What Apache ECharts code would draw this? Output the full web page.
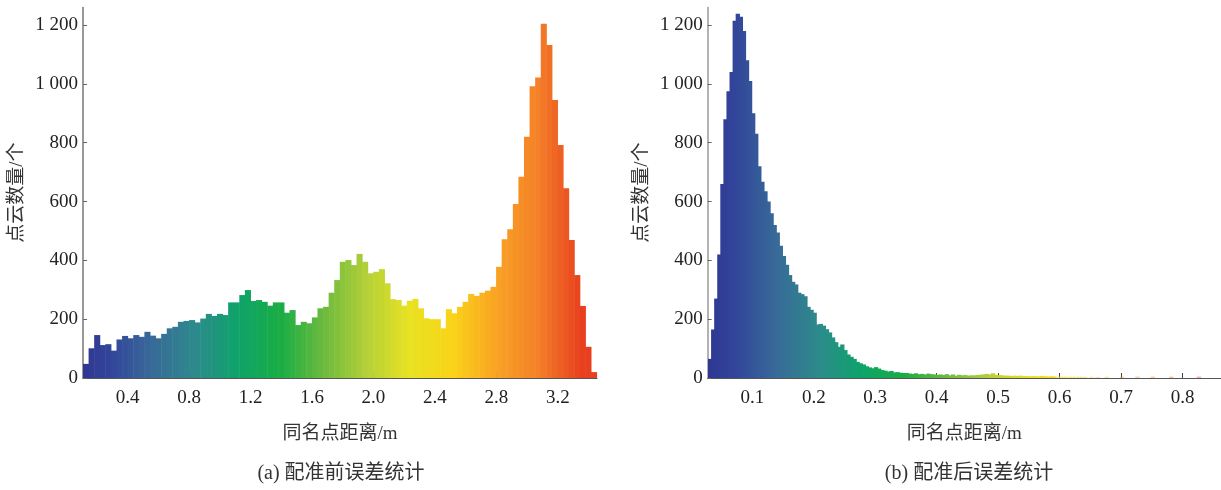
<!DOCTYPE html>
<html>
<head>
<meta charset="utf-8">
<script src="https://cdn.jsdelivr.net/npm/echarts@6/dist/echarts.min.js"></script>
<style>
  html, body { margin: 0; padding: 0; background: #fff; }
  #main { width: 1221px; height: 490px; }
</style>
</head>
<body>
<div id="main"></div>
<script>
// (a) 配准前 - histogram counts, bins from leftBinStart, width leftBinWidth
const leftBinStart = 0.109;
const leftBinWidth = 0.03634;
const leftCounts = [
  48, 101, 146, 112, 115, 93, 131, 143, 135, 146, 140, 157, 144, 135, 150, 169, 174, 191, 194, 197,
  189, 202, 218, 211, 218, 214, 257, 257, 282, 299,
  262, 265, 259, 246, 257, 257, 222, 231, 180, 191, 186, 206, 237, 242, 290, 333, 395, 401, 384, 422,
  395, 356, 361, 370, 322, 268, 265, 246, 263, 269,
  237, 203, 200, 200, 169, 234, 220, 242, 259, 286, 279, 290, 297, 310, 378, 472, 506, 592, 684, 820,
  992, 1022, 1204, 1132, 945, 792, 645, 469, 350, 245, 106, 20
];
const leftTicks = [0.4, 0.8, 1.2, 1.6, 2.0, 2.4, 2.8, 3.2];

// (b) 配准后
const rightBinStart = 0.028;
const rightBinWidth = 0.005;
const rightCounts = [
  65, 165, 270, 420, 660, 880, 975, 1040, 1215, 1238,
  1228, 1180, 1080, 1010, 900, 830, 720, 667, 635, 600,
  560, 520, 495, 450, 415, 385, 350, 327, 318, 290,
  285, 278, 242, 232, 222, 182, 184, 178, 166, 155,
  138, 122, 106, 114, 95, 80, 72, 65, 55, 50,
  46, 40, 36, 33, 37, 32, 27, 25, 22, 24,
  19, 20, 18, 17, 17, 15, 14, 16, 13, 14,
  12, 15, 13, 12, 11, 12,
  10, 13, 9, 12, 8, 11, 9, 10, 8, 9,
  9, 10, 11, 12, 14, 12, 16, 11, 10, 9, 8,
  8, 7, 8, 7, 8, 7, 7, 6, 7, 6, 6, 7, 6, 5, 6, 5, 5, 6, 5,
  5, 4, 5, 4, 5, 4, 4, 0, 4, 0, 4, 0, 0, 4, 0, 0,
  0, 0, 5, 0, 0, 0, 0, 5, 0, 0, 0, 0, 5, 0, 0, 0, 0, 0, 5, 0, 0, 0, 0, 0, 0, 0, 0, 5
];
const rightTicks = [0.1, 0.2, 0.3, 0.4, 0.5, 0.6, 0.7, 0.8];

const yTicks = [0, 200, 400, 600, 800, 1000, 1200];

const cmap = ['#2b2f8c', '#32449a', '#386a98', '#2d8a8c', '#0ea36a', '#1aad45', '#6cba3e',
  '#b4d038', '#e8e222', '#f9d418', '#f9a424', '#f48028', '#e8401e'];

const serif = "'Liberation Serif', 'Noto Sans CJK SC', serif";

function toBins(counts, start, w) {
  return counts.map((c, i) => [start + w * (i + 0.5), c]);
}

function histRender(w, fadeFrom, overlap) {
  return function (params, api) {
    const x = api.value(0);
    const y = api.value(1);
    if (!y) return null;
    const p0 = api.coord([x - w / 2, y]);
    const p1 = api.coord([x + w / 2, 0]);
    return {
      type: 'rect',
      shape: { x: p0[0], y: p0[1], width: p1[0] - p0[0] + overlap, height: p1[1] - p0[1] },
      style: { fill: api.visual('color'), opacity: x > fadeFrom ? 0.4 : 1 }
    };
  };
}

function yAxis(gridIndex) {
  return {
    type: 'value', gridIndex: gridIndex, min: 0, max: 1260,
    name: '点云数量/个', nameLocation: 'middle', nameGap: 56,
    nameTextStyle: { fontFamily: serif, fontSize: 19, color: '#333' },
    axisLine: { show: true, lineStyle: { color: gridIndex ? '#999' : '#777', width: 1.5 } },
    axisTick: { show: true, inside: true, length: 4, customValues: yTicks, lineStyle: { color: '#666' } },
    axisLabel: {
      customValues: yTicks, margin: 5, fontFamily: serif, fontSize: 19, color: '#222',
      formatter: v => v >= 1000 ? Math.floor(v / 1000) + ' ' + String(v % 1000).padStart(3, '0') : String(v)
    },
    splitLine: { show: false }
  };
}

function xAxis(gridIndex, min, max, ticks) {
  return {
    type: 'value', gridIndex: gridIndex, min: min, max: max,
    name: '同名点距离/m', nameLocation: 'middle', nameGap: 47,
    nameTextStyle: { fontFamily: serif, fontSize: 19, color: '#333' },
    axisLine: { show: true, onZero: false, lineStyle: { color: '#555', width: 1.2 } },
    axisTick: { show: true, inside: true, length: 5, customValues: ticks, lineStyle: { color: '#444' } },
    axisLabel: { customValues: ticks, margin: 11, fontFamily: serif, fontSize: 19, color: '#222',
      formatter: v => v.toFixed(1) },
    splitLine: { show: false }
  };
}

const chart = echarts.init(document.getElementById('main'));
chart.setOption({
  backgroundColor: '#fff',
  animation: false,
  grid: [
    { left: 83, right: 624, top: 7.4, bottom: 112 },
    { left: 707.7, right: 0, top: 7.4, bottom: 112 }
  ],
  xAxis: [xAxis(0, 0.109, 3.455, leftTicks), xAxis(1, 0.0275, 0.8624, rightTicks)],
  yAxis: [yAxis(0), yAxis(1)],
  visualMap: [
    { type: 'continuous', show: false, seriesIndex: 0, dimension: 0, min: 0, max: 3.35, inRange: { color: cmap } },
    { type: 'continuous', show: false, seriesIndex: 1, dimension: 0, min: 0, max: 0.83, inRange: { color: cmap } }
  ],
  series: [
    {
      type: 'custom', xAxisIndex: 0, yAxisIndex: 0,
      renderItem: histRender(leftBinWidth, 99, 0.5),
      data: toBins(leftCounts, leftBinStart, leftBinWidth)
    },
    {
      type: 'custom', xAxisIndex: 1, yAxisIndex: 1,
      renderItem: histRender(rightBinWidth, 0.595, 1.2),
      data: toBins(rightCounts, rightBinStart, rightBinWidth)
    }
  ],
  graphic: [
    { type: 'text', x: 341, y: 474, style: { text: '(a) 配准前误差统计', font: '20px ' + serif, fill: '#333', textAlign: 'center', textVerticalAlign: 'middle' } },
    { type: 'text', x: 969, y: 474, style: { text: '(b) 配准后误差统计', font: '20px ' + serif, fill: '#333', textAlign: 'center', textVerticalAlign: 'middle' } }
  ]
});
</script>
</body>
</html>
